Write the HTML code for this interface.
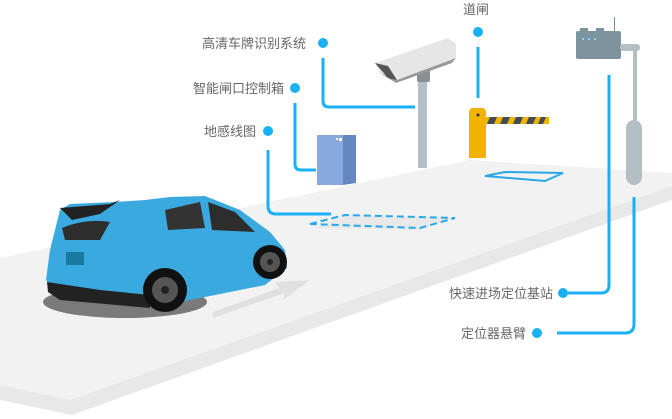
<!DOCTYPE html>
<html><head><meta charset="utf-8"><style>
body{margin:0;background:#fff;}
svg{display:block;font-family:"Liberation Sans","Noto Sans CJK SC",sans-serif;}
</style></head><body>
<svg width="672" height="419" viewBox="0 0 672 419" xmlns="http://www.w3.org/2000/svg">
<!-- road -->
<polygon points="0,258 470,160 672,173 672,186 70,400 0,385" fill="#f2f2f2"/>
<polygon points="0,385 70,400 672,186 672,200 72,415 0,400" fill="#e8e8e8"/>
<!-- road arrow -->
<polygon points="213,318 285,293 283,300 310,280 275,282 279,288 213,312" fill="#e0e0e0"/>
<!-- blue rect on road -->
<polygon points="485,176 505,172 563,173 545,181" fill="none" stroke="#2aa7e8" stroke-width="2"/>
<!-- dashed sensor -->
<polygon points="315,228 345,215 455,218 420,230" fill="#e9e9e9"/>
<polygon points="310,224 345,215 455,218 420,228" fill="none" stroke="#2aa7e8" stroke-width="2" stroke-dasharray="7,4"/>
<!-- connectors -->
<g stroke="#1ab0f5" stroke-width="3" fill="none">
<path d="M323,58 V101 Q323,107 329,107 H415"/>
<path d="M295,103 V164 Q295,170 301,170 H316"/>
<path d="M268,150 V206 Q268,214 276,214 H331"/>
<path d="M478,47 V98"/>
<path d="M609,75 V285 Q609,293 601,293 H568"/>
<path d="M634,197 V324 Q634,333 625,333 H557"/>
</g>
<g fill="#1ab0f5">
<circle cx="323" cy="43" r="5"/><circle cx="295" cy="88" r="5"/><circle cx="268" cy="131" r="5"/>
<circle cx="478" cy="32" r="5"/><circle cx="563" cy="293" r="5"/><circle cx="537" cy="333" r="5"/>
</g>
<g fill="#666" font-size="13">
<text x="306" y="48" text-anchor="end">高清车牌识别系统</text>
<text x="284" y="93" text-anchor="end">智能闸口控制箱</text>
<text x="256" y="136" text-anchor="end">地感线图</text>
<text x="463" y="14">道闸</text>
<text x="553" y="298" text-anchor="end">快速进场定位基站</text>
<text x="526" y="338" text-anchor="end">定位器悬臂</text>
</g>
<!-- camera -->
<rect x="418" y="78" width="9" height="90" fill="#b4bec5"/>
<rect x="417" y="70" width="13" height="12" rx="2" fill="#8a8f93"/>
<polygon points="375,63 448,38 456,44 456,58 397,80 380,73" fill="#e6e6e6"/>
<polygon points="380,73 397,80 456,58 452,63 396,83" fill="#9a9a9a"/>
<polygon points="375,63 388,66 397,80 388,78" fill="#555"/>
<!-- box -->
<rect x="317" y="135" width="26" height="50" fill="#88a9dc"/>
<polygon points="343,135 356,135 356,183 343,185" fill="#6587bf"/>
<rect x="339" y="138" width="3" height="3" fill="#fff"/><rect x="336" y="138" width="2" height="2" fill="#fff"/>
<!-- gate -->
<rect x="469" y="108" width="17" height="50" rx="4" fill="#f0b400"/>
<rect x="469" y="118" width="17" height="40" fill="#f0b400"/>
<circle cx="478" cy="115" r="1.5" fill="#333"/>
<rect x="486" y="117" width="63" height="7" fill="#f0b400"/>
<g fill="#444b55"><polygon points="490,117 497,117 494,124 487,124"/><polygon points="503,117 510,117 507,124 500,124"/><polygon points="516,117 523,117 520,124 513,124"/><polygon points="529,117 536,117 533,124 526,124"/><polygon points="541,117 546,117 543,124 538,124"/></g>
<!-- base station -->
<rect x="576" y="31" width="45" height="28" rx="2" fill="#7d939e"/>
<rect x="580" y="28" width="8" height="4" fill="#7d939e"/><rect x="596" y="28" width="8" height="4" fill="#7d939e"/>
<rect x="614" y="17" width="1" height="14" fill="#7d939e"/>
<g fill="#7fd3ff"><rect x="582" y="38" width="2" height="2"/><rect x="588" y="38" width="2" height="2"/><rect x="594" y="38" width="2" height="2"/></g>
<rect x="620" y="44" width="20" height="7" rx="3" fill="#b4bec5"/>
<rect x="633" y="48" width="4" height="75" fill="#b4bec5"/>
<rect x="626" y="120" width="16" height="65" rx="8" fill="#b4bec5"/>
<!-- car -->
<ellipse cx="125" cy="302" rx="82" ry="16" fill="#7a7a7a"/>
<path d="M60,210 L70,204 L115,202 L145,200 L170,197 L205,196 L240,210 L270,232 L285,250 L287,268 L265,285 L200,298 L150,308 L100,302 L55,293 L46,280 L50,250 Z" fill="#3aa9e0"/>
<path d="M62,228 Q85,218 110,222 L100,240 L65,240 Z" fill="#2d2d2d"/>
<path d="M165,210 L200,202 L205,228 L168,230 Z" fill="#333"/>
<path d="M208,202 L235,212 L255,232 L212,230 Z" fill="#2d2d2d"/>
<path d="M60,208 L110,204 L120,200 L100,214 L72,220 Z" fill="#222"/>
<rect x="66" y="252" width="18" height="13" fill="#187a9e"/>
<path d="M47,282 L100,290 L150,295 L150,308 L60,300 L48,292 Z" fill="#222"/>
<circle cx="165" cy="290" r="22" fill="#111"/><circle cx="165" cy="290" r="13" fill="#555"/><circle cx="165" cy="290" r="4" fill="#222"/>
<circle cx="270" cy="262" r="17" fill="#111"/><circle cx="270" cy="262" r="10" fill="#555"/><circle cx="270" cy="262" r="3" fill="#222"/>
</svg>
</body></html>
